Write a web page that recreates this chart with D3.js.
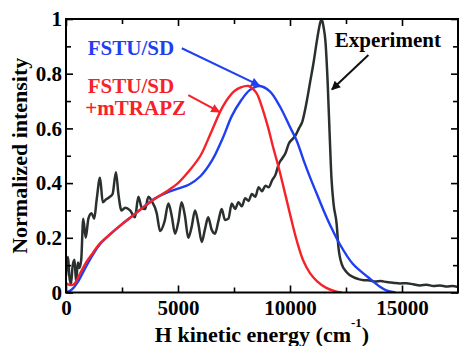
<!DOCTYPE html>
<html>
<head>
<meta charset="utf-8">
<script src="https://cdn.jsdelivr.net/npm/d3@7"></script>
<style>
  body { margin: 0; background: #fff; }
  svg text { font-family: "Liberation Serif", "Times New Roman", serif; font-weight: bold; }
</style>
</head>
<body>
<svg id="canvas" width="459" height="346"></svg>
<script>
// energies in cm-1, intensities normalized
let expX = [0, 40, 90, 150, 220, 300, 380, 450, 530, 600, 680, 770, 880, 1000, 1140, 1260, 1370, 1520, 1640, 1780, 1960, 2080, 2230, 2340, 2480, 2640, 2860, 3080, 3230, 3380, 3530, 3680, 3820, 4050, 4200, 4400, 4570, 4720, 4870, 5020, 5160, 5310, 5460, 5610, 5760, 5910, 6060, 6200, 6350, 6500, 6650, 6800, 6950, 7100, 7250, 7400, 7550, 7700, 7850, 8000, 8150, 8300, 8450, 8600, 8750, 8900, 9050, 9200, 9350, 9500, 9650, 9800, 9950, 10100, 10250, 10400, 10550, 10750, 10900, 11050, 11200, 11330, 11414, 11500, 11580, 11680, 11760, 11850, 11950, 12083, 12157, 12306, 12530, 12827, 13100, 13300, 13571, 13800, 14050, 14315, 14600, 14900, 15200, 15500, 15804, 16100, 16400, 16700, 17000, 17250, 17500]
let expY = [0.06, 0.10, 0.13, 0.06, 0.03, 0.10, 0.12, 0.04, 0.11, 0.09, 0.12, 0.27, 0.20, 0.27, 0.29, 0.27, 0.34, 0.42, 0.33, 0.34, 0.35, 0.36, 0.44, 0.36, 0.30, 0.31, 0.30, 0.275, 0.35, 0.31, 0.305, 0.35, 0.335, 0.29, 0.225, 0.26, 0.325, 0.28, 0.215, 0.26, 0.33, 0.28, 0.20, 0.24, 0.30, 0.25, 0.185, 0.23, 0.275, 0.23, 0.215, 0.26, 0.305, 0.265, 0.27, 0.325, 0.305, 0.33, 0.315, 0.345, 0.335, 0.36, 0.35, 0.385, 0.37, 0.39, 0.385, 0.41, 0.43, 0.47, 0.49, 0.51, 0.545, 0.56, 0.575, 0.60, 0.625, 0.70, 0.77, 0.84, 0.92, 0.98, 1.0, 0.97, 0.92, 0.77, 0.60, 0.42, 0.32, 0.25, 0.17, 0.105, 0.074, 0.056, 0.048, 0.045, 0.044, 0.040, 0.042, 0.038, 0.036, 0.033, 0.034, 0.030, 0.026, 0.028, 0.024, 0.026, 0.022, 0.024, 0.02]

let trapzX = [0, 150, 350, 600, 900, 1200, 1500, 2000, 2500, 3000, 3500, 4000, 4500, 5000, 5500, 6000, 6500, 7000, 7500, 7800, 8150, 8500, 8700, 9000, 9250, 9500, 9800, 10050, 10300, 10600, 10900, 11200, 11600, 12000, 12300]
let trapzY = [0.035, 0.028, 0.03, 0.065, 0.11, 0.145, 0.178, 0.215, 0.25, 0.282, 0.315, 0.345, 0.37, 0.40, 0.445, 0.50, 0.59, 0.68, 0.735, 0.75, 0.755, 0.73, 0.69, 0.61, 0.53, 0.455, 0.355, 0.27, 0.19, 0.115, 0.07, 0.042, 0.018, 0.005, 0.0]

let sdX = [0, 250, 500, 800, 1100, 1500, 2000, 2500, 3000, 3500, 4000, 4500, 5000, 5500, 6000, 6500, 7000, 7400, 7800, 8200, 8650, 9100, 9550, 10000, 10300, 10600, 10900, 11200, 11500, 11800, 12200, 12800, 13500, 14000, 14300, 14700]
let sdY = [0.0, 0.01, 0.035, 0.08, 0.125, 0.175, 0.215, 0.25, 0.282, 0.315, 0.345, 0.365, 0.38, 0.395, 0.425, 0.48, 0.565, 0.645, 0.70, 0.74, 0.755, 0.735, 0.68, 0.605, 0.555, 0.485, 0.42, 0.36, 0.30, 0.245, 0.18, 0.105, 0.055, 0.022, 0.008, 0.0]

let xTicks = [0, 5000, 10000, 15000]
let xMinor = [2500, 7500, 12500]
let yTicks = [0, 0.2, 0.4, 0.6, 0.8, 1]
let yMinor = [0.1, 0.3, 0.5, 0.7, 0.9]

// labels: [text, x, y] in data units, arrows: [x1, y1, x2, y2]
let sdLabel = ["FSTU/SD", 2900, 0.868]
let trapzLabel1 = ["FSTU/SD", 2900, 0.73]
let trapzLabel2 = ["+mTRAPZ", 3110, 0.649]
let expLabel = ["Experiment", 12000, 0.899]
let sdArrow = [5170, 0.893, 8630, 0.757]
let trapzArrow = [5460, 0.722, 6850, 0.66]
let expArrow = [13500, 0.868, 11870, 0.742]

let canvas = d3.select("#canvas")

let plotLeft = 66, plotRight = 458, plotTop = 19, plotBottom = 292.5

let xScale = d3.scaleLinear().domain([0, 17500]).range([plotLeft, plotRight])
let yScale = d3.scaleLinear().domain([0, 1]).range([plotBottom, plotTop])

let blue = "#1f3ff0"
let red = "#f5222a"
let dark = "#2a302e"

// arrow markers
let defs = canvas.append("defs")
let addMarker = (id, color) => {
    defs.append("marker")
        .attr("id", id)
        .attr("viewBox", "0 0 10 10")
        .attr("refX", 9)
        .attr("refY", 5)
        .attr("markerWidth", 5)
        .attr("markerHeight", 4.5)
        .attr("markerUnits", "strokeWidth")
        .attr("orient", "auto")
        .append("path")
        .attr("d", "M0,0 L10,5 L0,10 z")
        .attr("fill", color)
}
addMarker("headBlue", blue)
addMarker("headRed", red)
addMarker("headDark", "#111")

defs.append("clipPath").attr("id", "plotClip")
    .append("rect")
    .attr("x", plotLeft).attr("y", plotTop - 2)
    .attr("width", plotRight - plotLeft).attr("height", plotBottom - plotTop + 2)

let drawSeries = (xs, ys, color, width, curve) => {
    let pts = xs.map((v, i) => [v, ys[i]])
    let line = d3.line()
        .x(d => xScale(d[0]))
        .y(d => yScale(d[1]))
        .curve(curve)
    canvas.append("path")
        .datum(pts)
        .attr("clip-path", "url(#plotClip)")
        .attr("fill", "none")
        .attr("stroke", color)
        .attr("stroke-width", width)
        .attr("stroke-linejoin", "round")
        .attr("d", line)
}

drawSeries(expX, expY, dark, 2.5, d3.curveMonotoneX)
drawSeries(sdX, sdY, blue, 2.4, d3.curveCatmullRom)
drawSeries(trapzX, trapzY, red, 2.4, d3.curveCatmullRom)

// axes with inward ticks
let fmtY = d => (d === 0 || d === 1) ? d : d3.format(".1f")(d)

let bottomAxis = d3.axisBottom(xScale).tickValues(xTicks).tickSize(-7).tickSizeOuter(0).tickPadding(8).tickFormat(d3.format("d"))
let bottomMinor = d3.axisBottom(xScale).tickValues(xMinor).tickSize(-5).tickSizeOuter(0).tickFormat("")
let topAxis = d3.axisTop(xScale).tickValues(xTicks).tickSize(-7).tickSizeOuter(0).tickFormat("")
let topMinor = d3.axisTop(xScale).tickValues(xMinor).tickSize(-5).tickSizeOuter(0).tickFormat("")
let leftAxis = d3.axisLeft(yScale).tickValues(yTicks).tickSize(-7).tickSizeOuter(0).tickPadding(4).tickFormat(fmtY)
let leftMinor = d3.axisLeft(yScale).tickValues(yMinor).tickSize(-5).tickSizeOuter(0).tickFormat("")
let rightAxis = d3.axisRight(yScale).tickValues(yTicks).tickSize(-7).tickSizeOuter(0).tickFormat("")
let rightMinor = d3.axisRight(yScale).tickValues(yMinor).tickSize(-5).tickSizeOuter(0).tickFormat("")

let placeAxis = (axis, tx, ty) => {
    let g = canvas.append("g").attr("transform", "translate(" + tx + "," + ty + ")").call(axis)
    g.select(".domain").remove()
    g.selectAll(".tick line").attr("stroke", "#000").attr("stroke-width", 1.6)
    g.selectAll("text")
        .attr("fill", "#000")
        .style("font-size", "21px")
        .style("font-family", "'Liberation Serif', 'Times New Roman', serif")
        .style("font-weight", "bold")
    return g
}

placeAxis(bottomAxis, 0, plotBottom)
placeAxis(bottomMinor, 0, plotBottom)
placeAxis(topAxis, 0, plotTop)
placeAxis(topMinor, 0, plotTop)
placeAxis(leftAxis, plotLeft, 0)
placeAxis(leftMinor, plotLeft, 0)
placeAxis(rightAxis, plotRight, 0)
placeAxis(rightMinor, plotRight, 0)

// frame
canvas.append("rect")
    .attr("x", plotLeft).attr("y", plotTop)
    .attr("width", plotRight - plotLeft).attr("height", plotBottom - plotTop)
    .attr("fill", "none")
    .attr("stroke", "#000")
    .attr("stroke-width", 2)

// axis titles
let xTitle = canvas.append("text")
    .attr("x", (plotLeft + plotRight) / 2)
    .attr("y", 341.5)
    .attr("text-anchor", "middle")
    .style("font-size", "22px")
    .attr("fill", "#000")
xTitle.append("tspan").text("H kinetic energy (cm")
xTitle.append("tspan").attr("dy", -15).style("font-size", "13px").text("-1")
xTitle.append("tspan").attr("dy", 15).text(")")

canvas.append("text")
    .attr("transform", "translate(27," + ((plotTop + plotBottom) / 2) + ") rotate(-90)")
    .attr("text-anchor", "middle")
    .style("font-size", "22px")
    .attr("fill", "#000")
    .text("Normalized intensity")

// annotations
let addLabel = (lab, color, anchor) => {
    canvas.append("text")
        .attr("x", xScale(lab[1]))
        .attr("y", yScale(lab[2]))
        .attr("text-anchor", anchor)
        .style("font-size", "21px")
        .attr("fill", color)
        .text(lab[0])
}
addLabel(sdLabel, blue, "middle")
addLabel(trapzLabel1, red, "middle")
addLabel(trapzLabel2, red, "middle")
addLabel(expLabel, "#000", "start")

let addArrow = (a, color, marker) => {
    canvas.append("line")
        .attr("x1", xScale(a[0])).attr("y1", yScale(a[1]))
        .attr("x2", xScale(a[2])).attr("y2", yScale(a[3]))
        .attr("stroke", color)
        .attr("stroke-width", 2)
        .attr("marker-end", "url(#" + marker + ")")
}
addArrow(sdArrow, blue, "headBlue")
addArrow(trapzArrow, red, "headRed")
addArrow(expArrow, "#111", "headDark")
</script>
</body>
</html>
